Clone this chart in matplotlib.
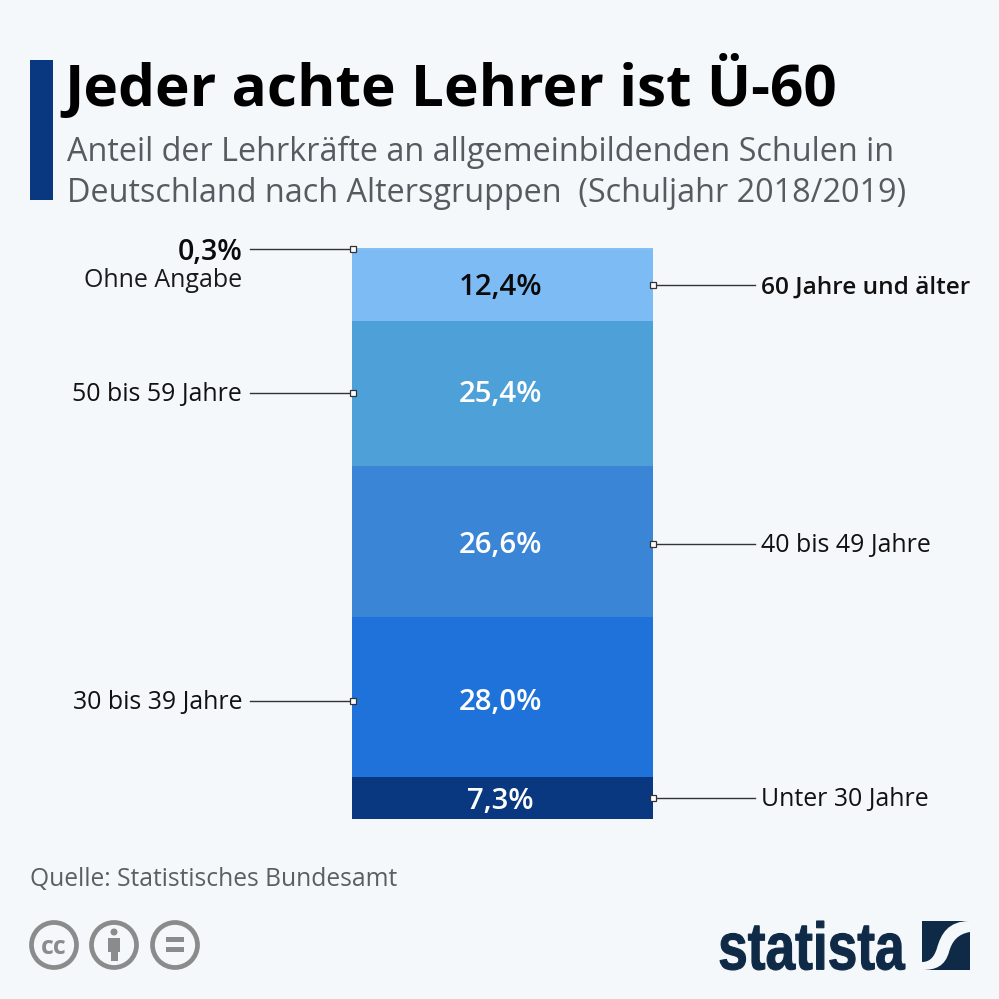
import matplotlib
matplotlib.use('Agg')
import matplotlib.pyplot as plt
from matplotlib.font_manager import FontProperties
from matplotlib.patches import Circle, PathPatch, Rectangle
from matplotlib.path import Path
from matplotlib.textpath import TextPath
from matplotlib.transforms import Affine2D, blended_transform_factory

plt.rcParams['font.family'] = ['Open Sans', 'DejaVu Sans']

# von unten nach oben gestapelt
groups = ['Unter 30 Jahre', '30 bis 39 Jahre', '40 bis 49 Jahre',
          '50 bis 59 Jahre', '60 Jahre und älter', 'Ohne Angabe']
shares = [7.3, 28.0, 26.6, 25.4, 12.4, 0.3]
share_labels = ['7,3%', '28,0%', '26,6%', '25,4%', '12,4%', '0,3%']
label_sides = ['right', 'left', 'right', 'left', 'right', 'left']
colors = ['#0A3880', '#2072DB', '#3A85D5', '#4EA1D8', '#7CBBF3', '#84C0F4']
value_colors = ['white', 'white', 'white', 'white', '#0B0B0B', '#0B0B0B']

title = 'Jeder achte Lehrer ist Ü-60'
subtitle = ['Anteil der Lehrkräfte an allgemeinbildenden Schulen in',
            'Deutschland nach Altersgruppen  (Schuljahr 2018/2019)']
source = 'Quelle: Statistisches Bundesamt'

BG = '#F5F8FB'
W = 999
UNIT_PX = 571 / 100
# Verbinder und Texte sitzen im Original nicht ganz mittig (Pixel nach unten)
line_shift = [0, 4, 3, 0, 0, 0]
value_shift = [2, 0, 0, 0, 1, 0]
label_shift = [0, 0, 0, 0, 2, 0]

fig = plt.figure(figsize=(W / 100, W / 100), dpi=100, facecolor=BG)

# Balken: Pixelbereich x 352-653, y 248-819
ax = fig.add_axes([352 / W, 1 - 819 / W, 301 / W, 571 / W])
ax.set_xlim(-0.5, 0.5)
ax.set_ylim(0, 100)
ax.axis('off')

# Ebene in Pixeln für Kopf, Fuß und Logo
px = fig.add_axes([0, 0, 1, 1], zorder=3)
px.set_xlim(0, W)
px.set_ylim(W, 0)
px.axis('off')

trans = blended_transform_factory(ax.transAxes, ax.transData)
bottom = 0
for i, (grp, val) in enumerate(zip(groups, shares)):
    ax.bar(0, val, width=1, bottom=bottom, color=colors[i], linewidth=0)
    mid = bottom + val / 2 - line_shift[i] / UNIT_PX
    y_text = mid + 2 / UNIT_PX
    top_row = val < 1
    if not top_row:
        ax.text(-0.007, y_text - value_shift[i] / UNIT_PX, share_labels[i], ha='center',
                va='center_baseline', fontsize=21.2, fontweight='semibold', color=value_colors[i])

    if label_sides[i] == 'left':
        x_line, x_mark, x_text, ha = -0.339, 0.003, -0.365, 'right'
    else:
        x_line, x_mark, x_text, ha = 1.339, 1.0, 1.359, 'left'
    ax.plot([x_line, x_mark], [mid, mid], transform=trans, color='#333333',
            linewidth=1.0, clip_on=False, zorder=4)
    ax.plot([x_mark], [mid], transform=trans, marker='s', ms=4.6, mfc='white',
            mec='#333333', mew=0.9, clip_on=False, zorder=5)

    bold = grp.startswith('60')
    if top_row:
        ax.text(x_text, mid, share_labels[i], transform=trans, ha=ha, va='center_baseline',
                fontsize=20.5, fontweight='semibold', color='#0B0B0B')
        ax.annotate(grp, xy=(x_text, mid), xycoords=trans, xytext=(0, -20.5),
                    textcoords='offset points', ha=ha, va='center_baseline',
                    fontsize=18, color='#1A1A1A')
    else:
        ax.text(x_text, y_text - label_shift[i] / UNIT_PX, grp, transform=trans, ha=ha,
                va='center_baseline', fontsize=17.6 if bold else 17.9,
                fontweight='semibold' if bold else 'normal', color='#111111')
    bottom += val

# Kopfbereich
px.add_patch(Rectangle((30, 60), 23, 140, color='#0A3880', linewidth=0))
px.text(64, 80, title, fontsize=42.1, fontweight='bold', color='black',
        ha='left', va='center_baseline')
for line, y in zip(subtitle, [148, 190]):
    px.text(67, y, line, fontsize=23.3, color='#555B60', ha='left', va='center_baseline')

# Fußbereich
px.text(30, 877, source, fontsize=17.7, color='#5A5F63', ha='left', va='center_baseline')

# CC-Symbole
GREY = '#8A8C8C'
for cx in [54, 114, 175]:
    px.add_patch(Circle((cx, 945), 22.5, fill=False, ec=GREY, lw=3.4))
px.text(54, 944, 'cc', fontsize=18, fontweight='bold', color=GREY,
        ha='center', va='center_baseline')
px.add_patch(Circle((114, 932), 3.5, color=GREY, lw=0))
px.add_patch(Rectangle((108, 938), 12, 14, color=GREY, lw=0))
px.add_patch(Rectangle((110.5, 950), 7, 11, color=GREY, lw=0))
px.add_patch(Rectangle((166, 937), 18, 5, color=GREY, lw=0))
px.add_patch(Rectangle((166, 947), 18, 5, color=GREY, lw=0))

# Statista-Logo: Schriftzug auf die Pixelbox gestaucht
NAVY = '#0F2A47'
logo = TextPath((0, 0), 'statista', size=50,
                prop=FontProperties(family='Liberation Sans', weight='bold'))
box = logo.get_extents()
to_box = (Affine2D().translate(-box.x0, -box.y0)
          .scale(185 / box.width, -49 / box.height).translate(720, 970))
px.add_patch(PathPatch(logo.transformed(to_box), fc=NAVY, ec=NAVY, lw=0.8))
px.add_patch(Rectangle((922, 921), 48, 49, color=NAVY, lw=0))
swoosh = Path(
    [(970, 921), (948, 921), (941, 934), (937, 948), (934, 958), (929, 962), (922, 962),
     (922, 970), (936, 970), (945, 966), (949, 952), (952, 941), (958, 934), (970, 932), (970, 921)],
    [Path.MOVETO, Path.CURVE4, Path.CURVE4, Path.CURVE4, Path.CURVE4, Path.CURVE4, Path.CURVE4,
     Path.LINETO, Path.CURVE4, Path.CURVE4, Path.CURVE4, Path.CURVE4, Path.CURVE4, Path.CURVE4, Path.CLOSEPOLY])
px.add_patch(PathPatch(swoosh, fc=BG, ec='none'))

fig.savefig('out.png', dpi=100, facecolor=BG)
